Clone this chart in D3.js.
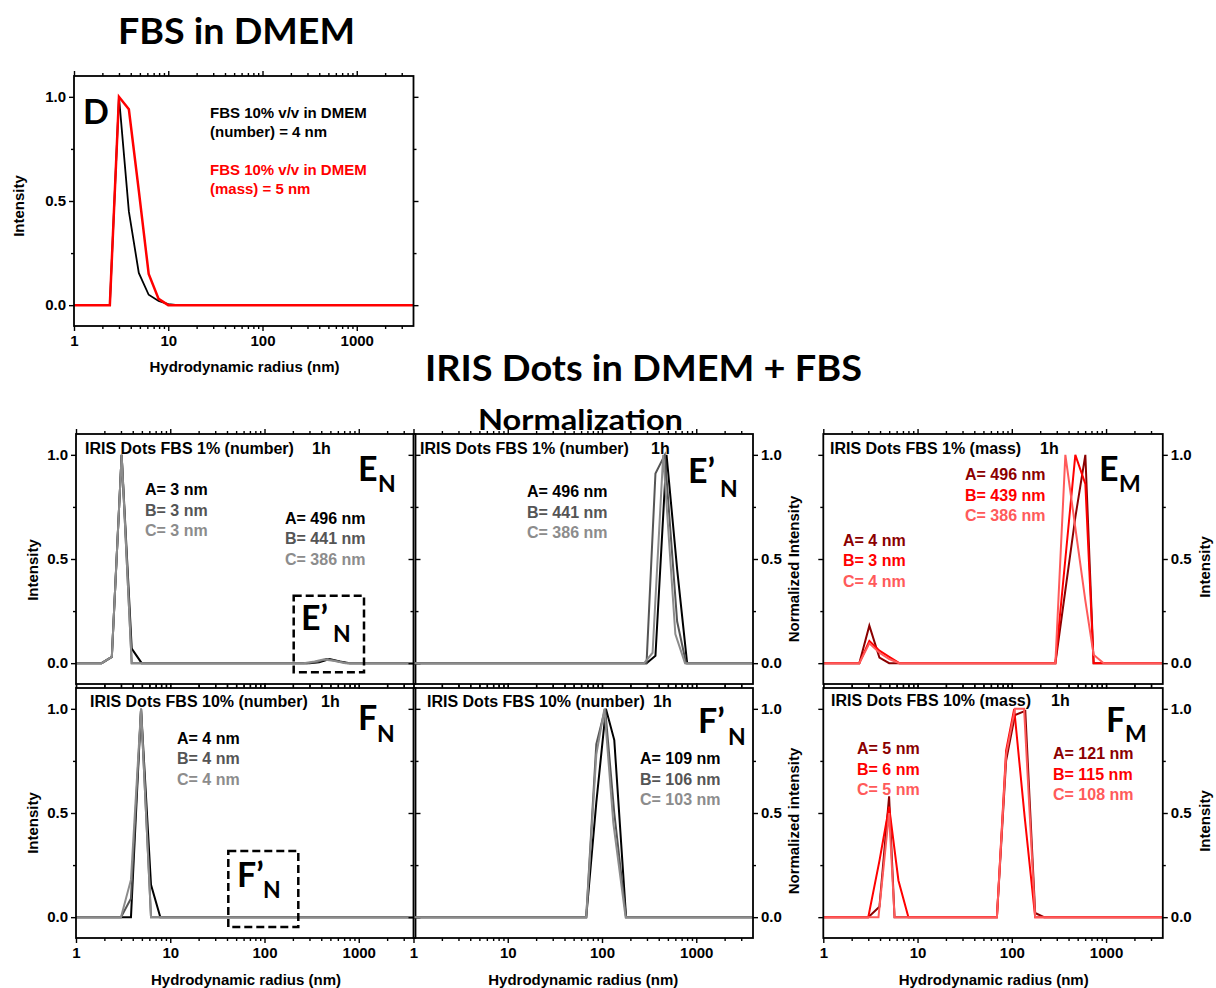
<!DOCTYPE html>
<html>
<head>
<meta charset="utf-8">
<script src="https://cdn.jsdelivr.net/npm/d3@7"></script>
<style>
  body { margin: 0; background: #fff; }
  svg text { font-family: "Liberation Sans", Arial, sans-serif; font-weight: bold; }
  svg text.big { font-family: Lato, "Open Sans", sans-serif; font-weight: bold; }
</style>
</head>
<body>
<svg id="chart" width="1216" height="988"></svg>
<script>
// ---- Axis settings shared by every panel ----
const xDomain = [1, 4000];
const yDomain = [-0.1, 1.1];
const xTicks = [1, 10, 100, 1000];
const xMinorTicks = [2,3,4,5,6,7,8,9,20,30,40,50,60,70,80,90,200,300,400,500,600,700,800,900,2000,3000];
const yTicks = [0, 0.5, 1.0];
const yMinorTicks = [0.25, 0.75];

// ---- Size distributions: [hydrodynamic radius (nm), intensity] ----
// D: FBS 10% v/v in DMEM
const dNumber = [[1,0],[2.4,0],[3.0,1.0],[3.82,0.45],[4.87,0.155],[6.2,0.05],[7.9,0.02],[10,0.005],[12.6,0],[4000,0]];
const dMass   = [[1,0],[2.4,0],[3.0,1.0],[3.82,0.94],[4.87,0.55],[6.2,0.15],[7.9,0.03],[10,0],[4000,0]];

// E_N: IRIS Dots FBS 1% (number)
const enA = [[1,0],[1.87,0],[2.4,0.03],[3.05,1.0],[3.9,0.07],[4.98,0],[300,0],[380,0.004],[490,0.02],[630,0.008],[800,0],[4000,0]];
const enB = [[1,0],[1.87,0],[2.4,0.03],[3.05,1.0],[3.9,0],[280,0],[360,0.006],[450,0.02],[580,0.01],[760,0],[4000,0]];
const enC = [[1,0],[1.87,0],[2.4,0.03],[3.05,1.0],[3.9,0],[260,0],[340,0.008],[420,0.018],[540,0.012],[720,0],[4000,0]];

// E'_N: normalized large-size population, FBS 1% (number)
const enpA = [[1,0],[297,0],[369,0.035],[484,1.0],[627,0.45],[800,0],[4000,0]];
const enpB = [[1,0],[297,0],[369,0.91],[464,1.0],[627,0.2],[780,0],[4000,0]];
const enpC = [[1,0],[280,0],[344,0.05],[446,1.0],[600,0.14],[760,0],[4000,0]];

// E_M: IRIS Dots FBS 1% (mass)
const emA = [[1,0],[2.41,0],[3.08,0.18],[3.94,0.027],[5.0,0],[290,0],[370,0.35],[472,0.7],[603,1.0],[738,0],[4000,0]];
const emB = [[1,0],[2.41,0],[3.08,0.107],[3.94,0.06],[5.0,0.03],[6.4,0],[290,0],[370,0.5],[472,1.0],[603,0.86],[738,0],[4000,0]];
const emC = [[1,0],[2.41,0],[3.08,0.095],[3.94,0.05],[5.0,0.02],[6.4,0],[290,0],[370,1.0],[472,0.65],[603,0.3],[738,0.04],[944,0],[4000,0]];

// F_N: IRIS Dots FBS 10% (number)
const fnA = [[1,0],[3.0,0],[3.83,0],[4.9,1.0],[6.25,0.155],[7.85,0],[4000,0]];
const fnB = [[1,0],[3.0,0],[3.83,0.09],[4.9,1.0],[6.25,0],[4000,0]];
const fnC = [[1,0],[3.0,0],[3.83,0.18],[4.9,1.0],[6.25,0],[4000,0]];

// F'_N: normalized large-size population, FBS 10% (number)
const fnpA = [[1,0],[68,0],[87,0.55],[110,1.0],[135,0.85],[180,0],[4000,0]];
const fnpB = [[1,0],[68,0],[87,0.83],[108,1.0],[135,0.5],[180,0],[4000,0]];
const fnpC = [[1,0],[68,0],[87,0.78],[106,1.0],[132,0.45],[178,0],[4000,0]];

// F_M: IRIS Dots FBS 10% (mass)
const fmA = [[1,0],[3.0,0],[3.94,0.05],[4.99,0.58],[5.7,0],[69.5,0],[87,0.75],[108,0.97],[139,0.99],[177,0.02],[220,0],[4000,0]];
const fmB = [[1,0],[3.0,0],[3.94,0.27],[4.99,0.53],[6.27,0.176],[8.0,0],[69.5,0],[87,0.8],[106,1.0],[137,0.48],[177,0],[4000,0]];
const fmC = [[1,0],[3.85,0],[4.99,0.5],[5.7,0],[69.5,0],[87,0.78],[108,1.0],[135,1.0],[177,0],[4000,0]];

// ---- Text content ----
const grayColors = ['#000000', '#555555', '#8c8c8c'];
const redColors  = ['#8b0000', '#ff0000', '#ff5a5a'];
const enSmall = ['A= 3 nm', 'B= 3 nm', 'C= 3 nm'];
const enLarge = ['A= 496 nm', 'B= 441 nm', 'C= 386 nm'];
const emSmall = ['A= 4 nm', 'B= 3 nm', 'C= 4 nm'];
const emLarge = ['A= 496 nm', 'B= 439 nm', 'C= 386 nm'];
const fnSmall = ['A= 4 nm', 'B= 4 nm', 'C= 4 nm'];
const fnLarge = ['A= 109 nm', 'B= 106 nm', 'C= 103 nm'];
const fmSmall = ['A= 5 nm', 'B= 6 nm', 'C= 5 nm'];
const fmLarge = ['A= 121 nm', 'B= 115 nm', 'C= 108 nm'];

const svg = d3.select('#chart');
const W = 339.5, H = 250;
let clipId = 0;

function styleAxis(sel, labelSize) {
  sel.select('.domain').remove();
  sel.selectAll('line').attr('stroke', '#000').attr('stroke-width', 1.4);
  sel.selectAll('text').attr('font-size', labelSize || 15).attr('fill', '#000')
     .attr('font-family', '"Liberation Sans", Arial, sans-serif').attr('font-weight', 'bold');
}

function panel(p) {
  const g = svg.append('g').attr('transform', `translate(${p.x},${p.y})`);
  const x = d3.scaleLog().domain(xDomain).range([0, W]);
  const y = d3.scaleLinear().domain(yDomain).range([H, 0]);
  const none = () => '';
  const fmtX = d3.format('d');
  const fmtY = d3.format('.1f');

  // major / minor ticks on all four sides, pointing outward
  g.append('g').attr('transform', `translate(0,${H})`)
    .call(d3.axisBottom(x).tickValues(xTicks).tickSize(5).tickPadding(4).tickFormat(p.xLabels ? fmtX : none))
    .call(styleAxis);
  g.append('g').attr('transform', `translate(0,${H})`)
    .call(d3.axisBottom(x).tickValues(xMinorTicks).tickSize(3).tickFormat(none)).call(styleAxis);
  g.append('g').call(d3.axisTop(x).tickValues(xTicks).tickSize(5).tickFormat(none)).call(styleAxis);
  g.append('g').call(d3.axisTop(x).tickValues(xMinorTicks).tickSize(3).tickFormat(none)).call(styleAxis);

  const labelLeft = p.yAxis === 'left';
  g.append('g').call(d3.axisLeft(y).tickValues(yTicks).tickSize(5).tickPadding(3).tickFormat(labelLeft ? fmtY : none)).call(styleAxis);
  g.append('g').call(d3.axisLeft(y).tickValues(yMinorTicks).tickSize(3).tickFormat(none)).call(styleAxis);
  g.append('g').attr('transform', `translate(${W},0)`)
    .call(d3.axisRight(y).tickValues(yTicks).tickSize(5).tickPadding(3).tickFormat(labelLeft ? none : fmtY)).call(styleAxis);
  g.append('g').attr('transform', `translate(${W},0)`)
    .call(d3.axisRight(y).tickValues(yMinorTicks).tickSize(3).tickFormat(none)).call(styleAxis);

  // curves
  const id = 'clip' + (clipId++);
  g.append('clipPath').attr('id', id).append('rect').attr('width', W).attr('height', H);
  const line = d3.line().x(d => x(d[0])).y(d => y(d[1]));
  const curves = g.append('g').attr('clip-path', `url(#${id})`);
  p.series.forEach(s => {
    curves.append('path').datum(s.data).attr('d', line)
      .attr('fill', 'none').attr('stroke', s.color).attr('stroke-width', s.width || 2)
      .attr('stroke-linejoin', 'miter');
  });

  // frame
  g.append('rect').attr('width', W).attr('height', H)
    .attr('fill', 'none').attr('stroke', '#000').attr('stroke-width', 1.8);
}

function txt(x, y, str, o = {}) {
  return svg.append('text').attr('x', x).attr('y', y)
    .attr('font-size', o.size || 15).attr('fill', o.fill || '#000')
    .attr('text-anchor', o.anchor || 'start').text(str);
}
function rotLabel(x, y, str) {
  svg.append('text').attr('transform', `translate(${x},${y}) rotate(-90)`)
    .attr('text-anchor', 'middle').attr('font-size', 15).text(str);
}
function stack(x, y, lines, colors) {
  lines.forEach((s, i) => txt(x, y + i * 20.7, s, { fill: colors[i], size: 16 }));
}
function letter(x, y, main, sub, sx, sy) {
  svg.append('text').attr('class', 'big').attr('x', x).attr('y', y).attr('font-size', 34).text(main);
  if (sub) svg.append('text').attr('class', 'big').attr('x', sx).attr('y', sy).attr('font-size', 23).text(sub);
}
function bigTitle(x, y, str, size, len) {
  svg.append('text').attr('class', 'big').attr('x', x).attr('y', y).attr('font-size', size)
    .attr('textLength', len).attr('lengthAdjust', 'spacingAndGlyphs').text(str);
}

// ---- Titles ----
bigTitle(118, 44, 'FBS in DMEM', 36, 237);
bigTitle(425, 381, 'IRIS Dots in DMEM + FBS', 36, 437);
bigTitle(478, 430, 'Normalization', 28, 205);

// ---- Panels ----
panel({ x: 74, y: 76, yAxis: 'left', xLabels: true, series: [
  { data: dNumber, color: '#000000', width: 1.8 },
  { data: dMass, color: '#ff0000', width: 2.5 } ] });
panel({ x: 76, y: 434, yAxis: 'left', xLabels: false, series: [
  { data: enA, color: grayColors[0] }, { data: enB, color: grayColors[1] }, { data: enC, color: grayColors[2] } ] });
panel({ x: 413.5, y: 434, yAxis: 'right', xLabels: false, series: [
  { data: enpA, color: grayColors[0] }, { data: enpB, color: grayColors[1] }, { data: enpC, color: grayColors[2] } ] });
panel({ x: 823.3, y: 434, yAxis: 'right', xLabels: false, series: [
  { data: emA, color: redColors[0] }, { data: emB, color: redColors[1] }, { data: emC, color: redColors[2] } ] });
panel({ x: 76, y: 688, yAxis: 'left', xLabels: true, series: [
  { data: fnA, color: grayColors[0] }, { data: fnB, color: grayColors[1] }, { data: fnC, color: grayColors[2] } ] });
panel({ x: 413.5, y: 688, yAxis: 'right', xLabels: true, series: [
  { data: fnpA, color: grayColors[0] }, { data: fnpB, color: grayColors[1] }, { data: fnpC, color: grayColors[2] } ] });
panel({ x: 823.3, y: 688, yAxis: 'right', xLabels: true, series: [
  { data: fmA, color: redColors[0] }, { data: fmB, color: redColors[1] }, { data: fmC, color: redColors[2] } ] });

// ---- Axis titles ----
rotLabel(24, 206, 'Intensity');
txt(244.5, 372, 'Hydrodynamic radius (nm)', { anchor: 'middle' });
rotLabel(37.5, 570, 'Intensity');
rotLabel(37.5, 823, 'Intensity');
rotLabel(799, 569, 'Normalized Intensity');
rotLabel(799, 821, 'Normalized intensity');
rotLabel(1210, 567, 'Intensity');
rotLabel(1210, 821, 'Intensity');
txt(246, 985, 'Hydrodynamic radius (nm)', { anchor: 'middle' });
txt(583.3, 985, 'Hydrodynamic radius (nm)', { anchor: 'middle' });
txt(993.7, 985, 'Hydrodynamic radius (nm)', { anchor: 'middle' });

// ---- Panel D annotations ----
letter(83, 124, 'D');
txt(210, 118, 'FBS 10% v/v in DMEM');
txt(210, 137, '(number) = 4 nm');
txt(210, 175, 'FBS 10% v/v in DMEM', { fill: '#ff0000' });
txt(210, 194, '(mass) = 5 nm', { fill: '#ff0000' });

// ---- Panel subtitles ----
txt(85, 454, 'IRIS Dots FBS 1% (number)', { size: 16 }); txt(312, 454, '1h', { size: 16 });
txt(420, 454, 'IRIS Dots FBS 1% (number)', { size: 16 }); txt(651, 454, '1h', { size: 16 });
txt(830, 454, 'IRIS Dots FBS 1% (mass)', { size: 16 }); txt(1040, 454, '1h', { size: 16 });
txt(90, 707, 'IRIS Dots FBS 10% (number)', { size: 16 }); txt(321, 707, '1h', { size: 16 });
txt(427, 707, 'IRIS Dots FBS 10% (number)', { size: 16 }); txt(653, 707, '1h', { size: 16 });
txt(831, 706, 'IRIS Dots FBS 10% (mass)', { size: 16 }); txt(1051, 706, '1h', { size: 16 });

// ---- Size read-outs ----
stack(145, 495, enSmall, grayColors);
stack(285, 523.5, enLarge, grayColors);
stack(527, 497, enLarge, grayColors);
stack(965, 480, emLarge, redColors);
stack(843, 545.5, emSmall, redColors);
stack(177, 743.5, fnSmall, grayColors);
stack(640, 764, fnLarge, grayColors);
stack(857, 754, fmSmall, redColors);
stack(1053, 759, fmLarge, redColors);

// ---- Panel letters ----
letter(358, 481, 'E', 'N', 378, 492);
letter(688, 483, 'E\u2019', 'N', 720, 497);
letter(1099, 481, 'E', 'M', 1119, 492);
letter(358, 730, 'F', 'N', 377, 742);
letter(698, 733, 'F\u2019', 'N', 728, 745);
letter(1106, 732, 'F', 'M', 1125, 742);

// ---- Zoom boxes marking the normalized regions ----
svg.append('rect').attr('x', 293.7).attr('y', 595.7).attr('width', 70.3).attr('height', 76.6)
  .attr('fill', 'none').attr('stroke', '#000').attr('stroke-width', 2.5).attr('stroke-dasharray', '8,4');
letter(301, 630, 'E\u2019', 'N', 333, 642);
svg.append('rect').attr('x', 228.3).attr('y', 851).attr('width', 70).attr('height', 76)
  .attr('fill', 'none').attr('stroke', '#000').attr('stroke-width', 2.5).attr('stroke-dasharray', '8,4');
letter(237, 887, 'F\u2019', 'N', 263, 898);
</script>
</body>
</html>
